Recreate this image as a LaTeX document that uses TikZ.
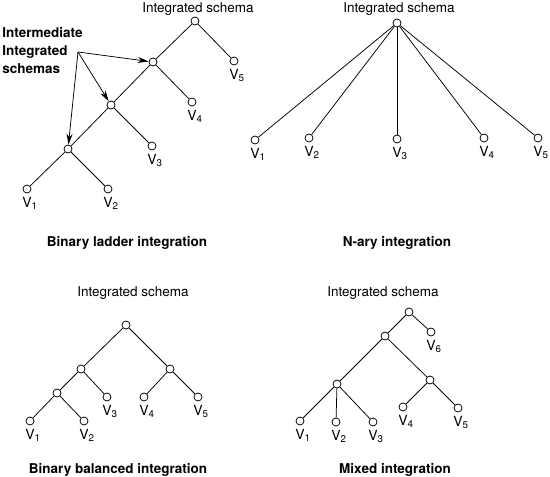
\documentclass[tikz,border=0pt]{standalone}
\usepackage{fontspec}
\setmainfont{TeX Gyre Heros}
\usetikzlibrary{arrows.meta}

\newcommand{\vlab}[1]{V\textsubscript{#1}}

\begin{document}
\begin{tikzpicture}[x=1pt,y=-1pt,line width=0.75pt,>={Stealth[length=11pt,width=6pt]},
		vnode/.style={circle,draw,fill=white,inner sep=0pt,minimum size=8pt},
		leaf/.style={vnode,label={[label distance=0pt,xshift=3pt,font=\fontsize{14}{16}\selectfont]below:\vlab{#1}}},
		head/.style={anchor=base,inner sep=0pt,font=\fontsize{13.5}{16}\selectfont},
		caption/.style={anchor=base,inner sep=0pt,font=\fontsize{13.5}{16}\selectfont\bfseries}]
		
		\useasboundingbox (0,0) rectangle (550,477);
		
		% binary ladder
		\node[head] (lhead) at (198,12) {Integrated schema};
		\node[vnode] (l0) at (195,21) {};
		\node[vnode] (l1) at (153,62) {};
		\node[vnode] (l2) at (111,105) {};
		\node[vnode] (l3) at (68,149) {};
		\node[leaf=1] (lv1) at (27,189) {};
		\node[leaf=2] (lv2) at (108,189) {};
		\node[leaf=3] (lv3) at (152,146) {};
		\node[leaf=4] (lv4) at (192,102) {};
		\node[leaf=5] (lv5) at (234,61) {};
		\node[caption] (lcap) at (127,246) {Binary ladder integration};
		
		\path
		(l0) edge (l1)
		(l0) edge (lv5)
		(l1) edge (l2)
		(l1) edge (lv4)
		(l2) edge (l3)
		(l2) edge (lv3)
		(l3) edge (lv1)
		(l3) edge (lv2);
		
		\node[anchor=north west,inner sep=0pt,align=left,font=\fontsize{13.5}{18}\selectfont\bfseries] (inter) at (2,27.5) {Intermediate\\Integrated\\schemas};
		\coordinate (src) at (78,52);
		\draw[->] (src) -- (l1);
		\draw[->] (src) -- (l2);
		\draw[->] (src) -- (l3);
		
		% n-ary
		\node[head] (nhead) at (399,12) {Integrated schema};
		\node[vnode] (n0) at (397,23) {};
		\node[leaf=1] (nv1) at (255,140) {};
		\node[leaf=2] (nv2) at (309,138) {};
		\node[leaf=3] (nv3) at (397,139) {};
		\node[leaf=4] (nv4) at (484,138) {};
		\node[leaf=5] (nv5) at (538,138) {};
		\node[caption] (ncap) at (397,246) {N-ary integration};
		
		\foreach \i in {1,...,5}
		\draw (n0) -- (nv\i);
		
		% binary balanced
		\node[head] (bhead) at (133,296) {Integrated schema};
		\node[vnode] (b0) at (126,325) {};
		\node[vnode] (b1) at (81,369) {};
		\node[vnode] (b2) at (170,369) {};
		\node[vnode] (b3) at (57,393) {};
		\node[leaf=1] (bv1) at (30,421) {};
		\node[leaf=2] (bv2) at (84,421) {};
		\node[leaf=3] (bv3) at (107,397) {};
		\node[leaf=4] (bv4) at (144,397) {};
		\node[leaf=5] (bv5) at (198,397) {};
		\node[caption] (bcap) at (118,473) {Binary balanced integration};
		
		\path
		(b0) edge (b1)
		(b0) edge (b2)
		(b1) edge (b3)
		(b1) edge (bv3)
		(b3) edge (bv1)
		(b3) edge (bv2)
		(b2) edge (bv4)
		(b2) edge (bv5);
		
		% mixed
		\node[head] (mhead) at (383,296) {Integrated schema};
		\node[vnode] (m0) at (409,312) {};
		\node[vnode] (m1) at (385,336) {};
		\node[vnode] (m2) at (337,384) {};
		\node[vnode] (m3) at (430,380) {};
		\node[leaf=1] (mv1) at (300,421) {};
		\node[leaf=2] (mv2) at (336,422) {};
		\node[leaf=3] (mv3) at (373,422) {};
		\node[leaf=4] (mv4) at (403,407) {};
		\node[leaf=5] (mv5) at (458,408) {};
		\node[leaf=6] (mv6) at (431,332) {};
		\node[caption] (mcap) at (395,473) {Mixed integration};
		
		\path
		(m0) edge (m1)
		(m0) edge (mv6)
		(m1) edge (m2)
		(m1) edge (m3)
		(m2) edge (mv1)
		(m2) edge (mv2)
		(m2) edge (mv3)
		(m3) edge (mv4)
		(m3) edge (mv5);
		
\end{tikzpicture}
\end{document}
